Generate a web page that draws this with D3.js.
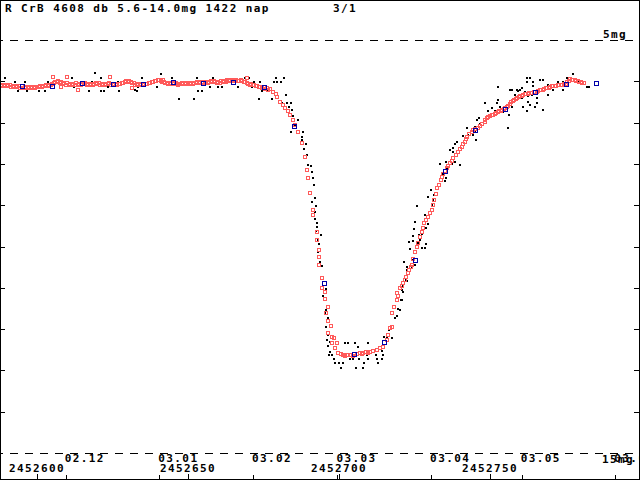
<!DOCTYPE html>
<html>
<head>
<meta charset="utf-8">
<script src="https://cdn.jsdelivr.net/npm/d3@7"></script>
<style>
  body { margin: 0; background: #fff; }
  svg { display: block; }
  text { font-family: "DejaVu Sans Mono", monospace; font-weight: bold; font-size: 11px; letter-spacing: 1.4px; fill: #000; }
</style>
</head>
<body>
<svg id="chart" width="640" height="480"></svg>
<script>
'use strict';
// day numbers are counted from this julian date
const jd0 = 2452600;

const title = "R CrB 4608 db 5.6-14.0mg 1422 nap";
const pageLabel = "3/1";

// tick values and labels
const jdTicks = [2452600, 2452650, 2452700, 2452750];
const monthTicks = ["02.12", "03.01", "03.02", "03.03", "03.04", "03.05", "03.06"];
const magTicks = [6, 7, 8, 9, 10, 11, 12, 13, 14];
const magLines = [5, 15];

// 10 day means (blue)
const meanDays = [-5, 5, 15, 25, 35, 45, 55, 65, 75, 85, 95, 105, 115, 125, 135, 145, 155, 165, 175, 185];
const meanMags = [6.11, 6.11, 6.04, 6.07, 6.07, 6.02, 6.04, 6.02, 6.14, 7.08, 10.88, 12.60, 12.31, 10.33, 8.17, 7.18, 6.67, 6.26, 6.07, 6.04];

// smoothed curve (red), [day, mag]
const smoothData = [
  [-12, 6.09], [-11, 6.09], [-10, 6.09], [-9, 6.09], [-8, 6.11], [-7, 6.11], [-6, 6.11], [-5, 6.11],
  [-4, 6.14], [-3, 6.14], [-2, 6.14], [-1, 6.14], [0, 6.14], [1, 6.11], [2, 6.11], [3, 6.09], [4, 6.09],
  [5, 6.07], [6, 6.02], [7, 5.99], [8, 6.02], [9, 6.04], [10, 6.04], [11, 6.07], [12, 6.07], [13, 6.04],
  [14, 6.07], [15, 6.07], [16, 6.04], [17, 6.07], [18, 6.07], [19, 6.07], [20, 6.07], [21, 6.09], [22, 6.07],
  [23, 6.07], [24, 6.04], [25, 6.07], [26, 6.07], [27, 6.07], [28, 6.04], [29, 6.02], [30, 6.02], [31, 6.02],
  [32, 6.04], [33, 6.07], [34, 6.07], [35, 6.07], [36, 6.07], [37, 6.04], [38, 6.02], [39, 5.99], [40, 5.97],
  [41, 5.99], [42, 6.02], [43, 6.04], [44, 6.04], [45, 6.04], [46, 6.04], [47, 6.07], [48, 6.04], [49, 6.04],
  [50, 6.04], [51, 6.04], [52, 6.04], [53, 6.02], [54, 6.02], [55, 6.02], [56, 6.02], [57, 6.02], [58, 6.02],
  [59, 6.02], [60, 6.02], [61, 5.99], [62, 5.99], [63, 5.99], [64, 5.97], [65, 5.97], [66, 5.97], [67, 5.99],
  [68, 5.99], [69, 6.02], [70, 6.07], [71, 6.07], [72, 6.09], [73, 6.11], [74, 6.14], [75, 6.14], [76, 6.16],
  [77, 6.19],
  // second values between the days on the plateau
  [-11.5, 6.11], [-10.5, 6.11], [-9.5, 6.11], [-8.5, 6.14], [-7.5, 6.14], [-6.5, 6.14], [-5.5, 6.16],
  [-4.5, 6.16], [-3.5, 6.16], [-2.5, 6.16], [-1.5, 6.16], [-0.5, 6.16], [0.5, 6.14], [1.5, 6.14], [2.5, 6.11],
  [3.5, 6.11], [4.5, 6.09], [5.5, 6.04], [6.5, 6.02], [7.5, 6.04], [8.5, 6.07], [9.5, 6.09], [10.5, 6.09],
  [11.5, 6.09], [12.5, 6.09], [13.5, 6.09], [14.5, 6.09], [15.5, 6.07], [16.5, 6.09], [17.5, 6.09], [18.5, 6.09],
  [19.5, 6.04], [20.5, 6.04], [21.5, 6.09], [22.5, 6.09], [23.5, 6.07], [24.5, 6.09], [25.5, 6.09], [26.5, 6.09],
  [27.5, 6.07], [28.5, 6.04], [29.5, 5.99], [30.5, 5.99], [31.5, 6.04], [32.5, 6.09], [33.5, 6.09], [34.5, 6.09],
  [35.5, 6.09], [36.5, 6.07], [37.5, 6.04], [38.5, 6.02], [39.5, 5.99], [40.5, 5.97], [41.5, 6.02], [42.5, 6.04],
  [43.5, 6.07], [44.5, 6.07], [45.5, 6.07], [46.5, 6.07], [47.5, 6.07], [48.5, 6.07], [49.5, 6.07], [50.5, 6.07],
  [51.5, 6.07], [52.5, 6.04], [53.5, 6.04], [54.5, 6.04], [55.5, 6.04], [56.5, 6.04], [57.5, 5.99], [58.5, 5.99],
  [59.5, 6.04], [60.5, 6.04], [61.5, 6.02], [62.5, 6.02], [63.5, 5.99], [64.5, 5.99], [65.5, 5.99], [66.5, 5.99],
  [67.5, 5.97], [68.5, 6.02], [69.5, 6.04], [70.5, 6.09], [71.5, 6.09], [72.5, 6.11], [73.5, 6.14], [74.5, 6.16],
  [75.5, 6.19], [76.5, 6.21],
  // some loose ones on the plateau
  [5.3, 5.90], [9.9, 5.90], [13.6, 6.21], [24.2, 5.90], [7.9, 6.14], [41.7, 5.97], [62.9, 5.97],
  [69.5, 5.92], [31.5, 6.16], [46.7, 6.09],
  // the fade
  [78.25, 6.25], [79.37, 6.37], [80.46, 6.49], [82.12, 6.65], [83.77, 6.82], [84.87, 6.94], [85.43, 7.06],
  [86.52, 7.22], [87.65, 7.50], [88.74, 7.83], [89.30, 8.15], [89.83, 8.35], [90.40, 8.71], [91.49, 9.12],
  [91.49, 9.24], [92.62, 9.64], [92.62, 9.84], [93.48, 10.08], [93.48, 10.25], [93.48, 10.45], [94.47, 10.77],
  [94.47, 11.01], [95.36, 11.09], [95.36, 11.28], [96.46, 11.47], [95.60, 11.62], [96.46, 11.80], [97.35, 11.92],
  [96.46, 12.10], [97.58, 12.18], [98.44, 12.21], [97.58, 12.34], [99.24, 12.33], [98.68, 12.46], [99.77, 12.59],
  [79.0, 6.31], [81.3, 6.57], [83.0, 6.72],
  // minimum
  [101.42, 12.63], [102.5, 12.63], [103.08, 12.63], [104.0, 12.63], [105.07, 12.61], [106.0, 12.60],
  [106.95, 12.59], [108.0, 12.58], [109.0, 12.56], [110.26, 12.55], [111.3, 12.53], [112.48, 12.51],
  [113.58, 12.46], [114.67, 12.43], [115.79, 12.26], [116.32, 12.14], [116.89, 11.98], [117.45, 11.94],
  [100.5, 12.61], [101.9, 12.66], [104.5, 12.65], [107.5, 12.61], [109.6, 12.58],
  // recovery
  [117.45, 11.62], [118.31, 11.46], [119.11, 11.30], [119.30, 11.13], [120.20, 11.01], [121.29, 10.89],
  [122.19, 10.73], [123.28, 10.57], [124.07, 10.45], [125.17, 10.13], [126.26, 9.91], [127.38, 9.64],
  [128.25, 9.44], [129.57, 9.28], [130.70, 9.12], [131.56, 8.87], [132.55, 8.59], [133.68, 8.39],
  [134.54, 8.24], [135.66, 8.11], [136.75, 7.99], [137.85, 7.86], [139.50, 7.70], [140.63, 7.58],
  [141.72, 7.46], [142.48, 7.34], [143.94, 7.22], [145.03, 7.16], [146.69, 7.08], [148.34, 6.98],
  [119.7, 11.20], [120.7, 10.95], [121.7, 10.80], [122.7, 10.65], [123.7, 10.50], [124.6, 10.30],
  [125.7, 10.00], [126.8, 9.78], [127.8, 9.54], [128.9, 9.36], [130.1, 9.20], [131.1, 9.00], [132.0, 8.73],
  [133.1, 8.50], [134.1, 8.31], [135.1, 8.17], [136.2, 8.05], [137.3, 7.92], [138.7, 7.78], [140.1, 7.64],
  [141.2, 7.52], [142.1, 7.40], [143.2, 7.28], [144.5, 7.19], [145.9, 7.12], [147.5, 7.03],
  [149, 6.89], [150, 6.84], [151, 6.82], [152, 6.77], [153, 6.72], [154, 6.69], [155, 6.65], [156, 6.60],
  [157, 6.50], [158, 6.45], [159, 6.40], [160, 6.36], [161, 6.33], [162, 6.31], [163, 6.28], [164, 6.28],
  [165, 6.26], [166, 6.23], [167, 6.21], [168, 6.19], [169, 6.16], [170, 6.14], [171, 6.11], [172, 6.11],
  [173, 6.09], [174, 6.09], [175, 6.07], [176, 5.99], [177, 5.97], [178, 5.97], [179, 5.99], [180, 6.02],
  [181, 6.04],
  [148.5, 6.94], [149.5, 6.86], [150.5, 6.82], [151.5, 6.79], [152.5, 6.74], [153.5, 6.72], [154.5, 6.67],
  [155.5, 6.62], [156.5, 6.55], [157.5, 6.47], [158.5, 6.43], [159.5, 6.38], [160.5, 6.36], [161.5, 6.31],
  [162.5, 6.31], [163.5, 6.28], [164.5, 6.26], [165.5, 6.26], [166.5, 6.21], [167.5, 6.21], [168.5, 6.16],
  [169.5, 6.16], [170.5, 6.11], [171.5, 6.11], [172.5, 6.09], [173.5, 6.09], [174.5, 6.07], [175.5, 6.02],
  [176.5, 5.95], [177.5, 5.97], [178.5, 5.99], [179.5, 6.02], [180.5, 6.04]
];

// single observations (black), [day, mag]
const obsData = [
  [-10.6, 5.92], [-7.3, 6.02], [-6.3, 6.23], [-4.0, 6.02], [-3.3, 6.23], [0.7, 6.23], [2.6, 6.23], [3.6, 6.02],
  [11.6, 5.92], [12.3, 6.14], [17.2, 6.23], [18.2, 6.02], [19.2, 5.80], [21.2, 5.92], [21.2, 6.23], [22.2, 6.23],
  [23.5, 6.14], [26.8, 6.02], [27.2, 6.23], [33.1, 6.23], [32.5, 6.21], [33.4, 6.14], [34.8, 5.92], [39.7, 6.14],
  [41.1, 5.82], [44.7, 5.92], [47.0, 6.43], [52.0, 6.43], [53.0, 5.92], [53.3, 6.23], [54.6, 6.23], [57.3, 6.14],
  [58.3, 5.92], [59.9, 6.14], [61.3, 6.14], [66.6, 6.14], [68.9, 5.92], [70.2, 5.92], [71.9, 6.02], [71.2, 6.14],
  [73.5, 6.43], [73.8, 6.02], [74.5, 6.23], [76.2, 6.23], [77.8, 6.43], [78.5, 6.02], [79.5, 6.02], [79.1, 5.92],
  [80.8, 6.02], [81.8, 5.92], [82.5, 6.33], [82.8, 6.53], [81.1, 6.53], [84.1, 6.53], [83.4, 6.62], [84.4, 6.69],
  [84.8, 6.84], [86.4, 6.94], [85.4, 7.06], [84.1, 7.23], [88.1, 7.23], [87.7, 7.35], [87.7, 7.42], [89.1, 7.52],
  [88.4, 7.64], [89.4, 7.78], [89.7, 8.03], [90.7, 8.05], [91.1, 8.20], [91.4, 8.34], [91.7, 8.51], [92.1, 8.83],
  [91.1, 8.92], [92.4, 9.02], [92.1, 9.16], [92.1, 9.33], [92.7, 9.43], [92.7, 9.53], [92.4, 9.62], [94.0, 9.72],
  [93.0, 9.84], [93.4, 9.94], [93.0, 10.13], [93.7, 10.38], [94.4, 10.47], [95.7, 11.03], [94.7, 11.20],
  [95.7, 11.54], [95.4, 11.61], [96.4, 11.73], [95.7, 11.95], [96.4, 12.14], [96.0, 12.26], [97.0, 12.31],
  [96.4, 12.41], [97.0, 12.55], [96.7, 12.63], [97.7, 12.63], [98.3, 12.72], [98.7, 12.82], [100.0, 12.82],
  [101.3, 12.82], [100.7, 12.94], [102.0, 12.34], [103.0, 12.34], [105.3, 12.34], [106.3, 12.43], [109.6, 12.34],
  [109.3, 12.63], [106.6, 12.72], [104.6, 12.72], [103.6, 12.72], [108.3, 12.82], [109.6, 12.72], [107.9, 12.94],
  [105.6, 12.94], [112.3, 12.63], [112.6, 12.72], [112.9, 12.82], [114.2, 12.72], [114.2, 12.53], [114.6, 12.63],
  [114.9, 12.19], [115.9, 12.22], [116.6, 12.02], [117.5, 12.22], [118.5, 11.73], [119.2, 11.68], [120.2, 11.54],
  [120.9, 11.30], [120.9, 11.05], [122.5, 10.84], [122.5, 10.50], [121.5, 10.38], [123.5, 10.06], [123.2, 9.89],
  [124.5, 9.75], [124.8, 9.58], [125.2, 9.41], [124.5, 9.87], [125.8, 9.92], [125.8, 9.02], [126.5, 9.72],
  [119.5, 11.51], [120.5, 11.30], [121.2, 11.10], [121.2, 10.96], [122.2, 10.81], [122.5, 10.57], [124.2, 10.52],
  [125.2, 10.45], [124.2, 10.33], [126.2, 9.89], [127.5, 10.04], [128.5, 10.04], [126.2, 9.94], [126.8, 9.84],
  [128.8, 9.94], [127.5, 9.70], [128.8, 9.55], [129.5, 9.46], [128.5, 9.24], [130.8, 9.00], [131.1, 8.87],
  [131.5, 8.75], [130.5, 8.63], [129.5, 8.80], [135.1, 8.41], [135.4, 8.34], [134.4, 8.24], [135.8, 8.10],
  [137.4, 8.00], [138.4, 7.95], [133.4, 8.00], [135.4, 7.95], [136.8, 7.66], [137.7, 7.62], [139.1, 7.47],
  [140.1, 8.03], [138.4, 7.52], [137.7, 7.71], [141.1, 7.32], [142.7, 7.30], [144.4, 7.30], [145.0, 7.23],
  [145.4, 7.42], [142.4, 7.13], [145.7, 6.94], [146.4, 6.89], [146.7, 7.03], [148.3, 6.53], [149.3, 6.72],
  [151.7, 6.72], [152.6, 6.45], [153.3, 6.62], [154.3, 6.74], [156.0, 7.13], [156.3, 6.82], [157.3, 6.62],
  [157.3, 6.21], [158.3, 6.33], [159.3, 6.23], [160.6, 6.16], [160.9, 6.62], [162.3, 6.72], [163.2, 6.57],
  [162.6, 6.36], [163.9, 6.33], [164.2, 6.11], [165.6, 6.40], [166.2, 6.26], [152.6, 6.14], [145.0, 7.11],
  [156.6, 6.21], [158.9, 6.21], [159.9, 6.21], [162.3, 5.92], [163.2, 5.92], [162.3, 6.02], [164.2, 6.02],
  [166.6, 5.97], [167.5, 5.97], [169.2, 6.09], [172.5, 6.02], [174.2, 6.02], [175.5, 5.92], [177.5, 5.82],
  [179.1, 6.02], [182.1, 6.14], [182.8, 6.14], [150.7, 6.65], [152.3, 6.53], [160.6, 6.40], [162.6, 6.50],
  [164.9, 6.62], [165.6, 6.53], [170.9, 6.21], [174.2, 6.21], [167.5, 6.69], [169.2, 6.33], [161.6, 6.26]
];

const width = 640, height = 480;
const svg = d3.select("#chart");

const x = d3.scaleLinear().domain([jd0, jd0 + 100]).range([37, 339]);
const y = d3.scaleLinear().domain([5, 15]).range([40, 453]);
const px = d => Math.round(x(jd0 + d));
const py = m => Math.round(y(m));

// white page
svg.append("rect").attr("width", width).attr("height", height).attr("fill", "#fff");

// dashed lines at 5 and 15 mag
svg.append("g").selectAll("line").data(magLines).join("line")
  .attr("x1", 0).attr("x2", width)
  .attr("y1", d => py(d) + 0.5).attr("y2", d => py(d) + 0.5)
  .attr("stroke", "#000").attr("stroke-dasharray", "8,7").attr("stroke-dashoffset", 5)
  .attr("shape-rendering", "crispEdges");

// mag ticks on both sides
const leftAxis = d3.axisRight(y).tickValues(magTicks).tickSize(5).tickFormat("");
const rightAxis = d3.axisLeft(y).tickValues(magTicks).tickSize(5).tickFormat("");
svg.append("g").call(leftAxis).call(g => g.select(".domain").remove());
svg.append("g").attr("transform", `translate(${width - 1},0)`).call(rightAxis).call(g => g.select(".domain").remove());

// time ticks at the bottom
const parseMonth = d3.utcParse("%y.%m");
const monthJD = s => parseMonth(s).getTime() / 86400000 + 2440587.5;
const jdAxis = d3.axisTop(x).tickValues(jdTicks).tickSize(5).tickFormat("");
const monthAxis = d3.axisTop(x).tickValues(monthTicks.map(monthJD)).tickSize(4).tickFormat("");
svg.append("g").attr("transform", `translate(0,${height - 1})`).call(jdAxis).call(g => g.select(".domain").remove());
svg.append("g").attr("transform", `translate(0,${height - 1})`).call(monthAxis).call(g => g.select(".domain").remove());
svg.selectAll(".tick line").attr("stroke", "#000").attr("shape-rendering", "crispEdges");

// labels
svg.append("g").selectAll("text").data(monthTicks).join("text")
  .attr("x", d => x(monthJD(d)) - 1).attr("y", 462).text(d => d);
svg.append("g").selectAll("text").data(jdTicks).join("text")
  .attr("x", d => x(d)).attr("y", 472).attr("text-anchor", "middle").text(d => d);

svg.append("text").attr("x", 5).attr("y", 12).text(title);
svg.append("text").attr("x", 333).attr("y", 12).text(pageLabel);
svg.append("text").attr("x", 603).attr("y", py(5) - 2).text("5mg");
svg.append("text").attr("x", 602).attr("y", 463).text("15mg");

// observations
svg.append("g").selectAll("rect").data(obsData).join("rect")
  .attr("x", d => px(d[0]) - 1).attr("y", d => py(d[1]) - 1)
  .attr("width", 2).attr("height", 2).attr("fill", "#000")
  .attr("shape-rendering", "crispEdges");

// smoothed curve
svg.append("g").selectAll("rect").data(smoothData).join("rect")
  .attr("x", d => px(d[0]) - 1.5).attr("y", d => py(d[1]) - 1.5)
  .attr("width", 3).attr("height", 3)
  .attr("fill", "none").attr("stroke", "#ff5a5a")
  .attr("shape-rendering", "crispEdges");

// 10 day means
svg.append("g").selectAll("rect").data(meanDays).join("rect")
  .attr("x", d => px(d) - 1.5).attr("y", (d, i) => py(meanMags[i]) - 1.5)
  .attr("width", 4).attr("height", 4)
  .attr("fill", "none").attr("stroke", "#0000a8")
  .attr("shape-rendering", "crispEdges");

// frame
svg.append("rect").attr("x", 0.5).attr("y", 0.5).attr("width", width - 1).attr("height", height - 1)
  .attr("fill", "none").attr("stroke", "#000").attr("shape-rendering", "crispEdges");
</script>
</body>
</html>
